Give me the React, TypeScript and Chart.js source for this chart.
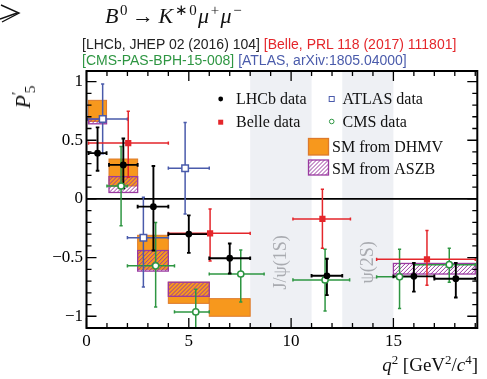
import React, { useEffect, useRef } from "react";
import { Chart, registerables } from "chart.js";
Chart.register(...registerables);

// ---------- axis ticks ----------
const xTickValues = [0, 5, 10, 15];
const yTickValues = [-1, -0.5, 0, 0.5, 1];

// ---------- LHCb ----------
const lhcbX = [0.54, 1.8, 3.27, 5.0, 7.0, 11.75, 16.0, 18.05];
const lhcbXLo = [0.1, 1.1, 2.5, 4, 6, 11, 15, 17];
const lhcbXHi = [0.98, 2.5, 4, 6, 8, 12.5, 17, 19];
const lhcbY = [0.39, 0.29, -0.066, -0.3, -0.505, -0.655, -0.66, -0.68];
const lhcbYLo = [0.24, 0.09, -0.44, -0.46, -0.635, -0.82, -0.79, -0.84];
const lhcbYHi = [0.61, 0.515, 0.28, -0.14, -0.38, -0.51, -0.545, -0.545];

// ---------- Belle ----------
const belleX = [2.04, 6.04, 11.53, 16.64];
const belleXLo = [0.1, 4, 10.09, 14.18];
const belleXHi = [4, 8, 12.9, 19];
const belleY = [0.476, -0.293, -0.171, -0.515];
const belleYLo = [0.185, -0.53, -0.42, -0.735];
const belleYHi = [0.746, -0.085, 0.083, -0.27];

// ---------- ATLAS ----------
const atlasX = [0.79, 2.78, 4.82];
const atlasXLo = [0.04, 2, 4];
const atlasXHi = [2, 4, 6];
const atlasY = [0.68, -0.33, 0.262];
const atlasYLo = [0.385, -0.75, -0.128];
const atlasYHi = [0.98, 0.015, 0.652];

// ---------- CMS ----------
const cmsX = [1.69, 3.38, 5.34, 7.54, 11.66, 15.3, 17.73];
const cmsXLo = [1, 2, 4.3, 6, 10.09, 14.18, 16];
const cmsXHi = [2, 4.3, 6, 8.68, 12.86, 16, 19];
const cmsY = [0.11, -0.57, -0.963, -0.64, -0.69, -0.664, -0.56];
const cmsYLo = [-0.228, -0.92, -1.13, -0.878, -0.955, -0.934, -0.71];
const cmsYHi = [0.447, -0.2, -0.77, -0.436, -0.43, -0.43, -0.42];

// ---------- SM predictions ----------
const dhmvXLo = [0.1, 1.1, 2.5, 4, 6];
const dhmvXHi = [0.98, 2.5, 4, 6, 8];
const dhmvYLo = [0.66, 0.11, -0.6, -0.89, -1.0];
const dhmvYHi = [0.84, 0.34, -0.31, -0.71, -0.85];

const aszbXLo = [0.1, 1.1, 2.5, 4, 15];
const aszbXHi = [0.98, 2.5, 4, 6, 19];
const aszbYLo = [0.64, 0.055, -0.615, -0.83, -0.64];
const aszbYHi = [0.68, 0.19, -0.44, -0.71, -0.55];

// ---------- charmonium vetoes ----------
const bandLo = [8, 12.5];
const bandHi = [11, 15];
const bandLabels = ["J/ψ(1S)", "ψ(2S)"];

const BLACK = "#000000";
const RED = "#e4262b";
const BLUE = "#4a5bab";
const GREEN = "#2e9642";
const ORANGE = "#f7981d";
const ORANGE_EDGE = "#dd7a2c";
const PURPLE = "#9a3aa0";
const BAND = "#eef0f4";
const SERIF = "'Liberation Serif', 'Times New Roman', serif";
const SANS = "'Liberation Sans', Arial, sans-serif";

function drawErrors(ctx: any, xs: any, ys: any, X: number[], XLo: number[], XHi: number[], Y: number[], YLo: number[], YHi: number[], color: string, lw: number, cap: number) {
  ctx.strokeStyle = color;
  ctx.lineWidth = lw;
  for (let i = 0; i < X.length; i++) {
    const px = xs.getPixelForValue(X[i]);
    const py = ys.getPixelForValue(Y[i]);
    const x1 = xs.getPixelForValue(XLo[i]);
    const x2 = xs.getPixelForValue(XHi[i]);
    const y1 = ys.getPixelForValue(YLo[i]);
    const y2 = ys.getPixelForValue(YHi[i]);
    ctx.beginPath();
    ctx.moveTo(x1, py); ctx.lineTo(x2, py);
    ctx.moveTo(px, y1); ctx.lineTo(px, y2);
    ctx.moveTo(x1, py - cap); ctx.lineTo(x1, py + cap);
    ctx.moveTo(x2, py - cap); ctx.lineTo(x2, py + cap);
    ctx.moveTo(px - cap, y1); ctx.lineTo(px + cap, y1);
    ctx.moveTo(px - cap, y2); ctx.lineTo(px + cap, y2);
    ctx.stroke();
  }
}

function hatchRect(ctx: any, l: number, t: number, r: number, b: number, lw: number) {
  ctx.save();
  ctx.beginPath();
  ctx.rect(l, t, r - l, b - t);
  ctx.clip();
  ctx.strokeStyle = PURPLE;
  ctx.lineWidth = 1;
  const h = b - t;
  ctx.beginPath();
  for (let s = l - h; s < r + 2; s += 4) {
    ctx.moveTo(s, b);
    ctx.lineTo(s + h, t);
  }
  ctx.stroke();
  ctx.restore();
  ctx.strokeStyle = PURPLE;
  ctx.lineWidth = lw;
  ctx.strokeRect(l, t, r - l, b - t);
}

const physicsPlugin = {
  id: "physics",
  beforeDatasetsDraw(chart: any) {
    const { ctx, chartArea: a, scales } = chart;
    const xs = scales.x, ys = scales.y;
    ctx.save();
    ctx.beginPath();
    ctx.rect(a.left, a.top, a.right - a.left, a.bottom - a.top);
    ctx.clip();
    for (let i = 0; i < bandLo.length; i++) {
      const l = xs.getPixelForValue(bandLo[i]);
      const r = xs.getPixelForValue(bandHi[i]);
      ctx.fillStyle = BAND;
      ctx.fillRect(l, a.top, r - l, a.bottom - a.top);
    }
    for (let i = 0; i < bandLo.length; i++) {
      const cx = xs.getPixelForValue((bandLo[i] + bandHi[i]) / 2);
      const cy = ys.getPixelForValue(-0.54);
      ctx.save();
      ctx.translate(cx, cy);
      ctx.rotate(-Math.PI / 2);
      ctx.fillStyle = "#a9abb0";
      ctx.font = `18px ${SERIF}`;
      ctx.textAlign = "center";
      ctx.textBaseline = "middle";
      ctx.fillText(bandLabels[i], 0, 0);
      ctx.restore();
    }
    for (let i = 0; i < dhmvXLo.length; i++) {
      const l = xs.getPixelForValue(dhmvXLo[i]);
      const r = xs.getPixelForValue(dhmvXHi[i]);
      const t = ys.getPixelForValue(dhmvYHi[i]);
      const b = ys.getPixelForValue(dhmvYLo[i]);
      ctx.fillStyle = ORANGE;
      ctx.fillRect(l, t, r - l, b - t);
      ctx.strokeStyle = ORANGE_EDGE;
      ctx.lineWidth = 1;
      ctx.strokeRect(l, t, r - l, b - t);
    }
    for (let i = 0; i < aszbXLo.length; i++) {
      const l = xs.getPixelForValue(aszbXLo[i]);
      const r = xs.getPixelForValue(aszbXHi[i]);
      const t = ys.getPixelForValue(aszbYHi[i]);
      const b = ys.getPixelForValue(aszbYLo[i]);
      hatchRect(ctx, l, t, r, b, 1.3);
    }
    const y0 = ys.getPixelForValue(0);
    ctx.strokeStyle = BLACK;
    ctx.lineWidth = 1.6;
    ctx.beginPath();
    ctx.moveTo(a.left, y0);
    ctx.lineTo(a.right, y0);
    ctx.stroke();
    drawErrors(ctx, xs, ys, cmsX, cmsXLo, cmsXHi, cmsY, cmsYLo, cmsYHi, GREEN, 1.5, 1.6);
    drawErrors(ctx, xs, ys, atlasX, atlasXLo, atlasXHi, atlasY, atlasYLo, atlasYHi, BLUE, 1.5, 1.6);
    drawErrors(ctx, xs, ys, belleX, belleXLo, belleXHi, belleY, belleYLo, belleYHi, RED, 1.5, 1.6);
    drawErrors(ctx, xs, ys, lhcbX, lhcbXLo, lhcbXHi, lhcbY, lhcbYLo, lhcbYHi, BLACK, 1.9, 1.8);
    ctx.restore();
  },
  afterDatasetsDraw(chart: any) {
    const { ctx, chartArea: a, scales } = chart;
    const xs = scales.x, ys = scales.y;
    ctx.save();
    ctx.strokeStyle = BLACK;
    ctx.lineWidth = 2;
    ctx.strokeRect(a.left, a.top, a.right - a.left, a.bottom - a.top);
    ctx.lineWidth = 1.3;
    ctx.beginPath();
    for (let v = 0; v <= 19; v += 1) {
      const px = xs.getPixelForValue(v);
      const len = v % 5 === 0 ? 10 : 5;
      ctx.moveTo(px, a.bottom); ctx.lineTo(px, a.bottom - len);
      ctx.moveTo(px, a.top); ctx.lineTo(px, a.top + len);
    }
    for (let k = -11; k <= 10; k++) {
      const v = k / 10;
      const py = ys.getPixelForValue(v);
      const len = k % 5 === 0 ? 10 : 5;
      ctx.moveTo(a.left, py); ctx.lineTo(a.left + len, py);
      ctx.moveTo(a.right, py); ctx.lineTo(a.right - len, py);
    }
    ctx.stroke();

    // legend
    ctx.font = `16px ${SERIF}`;
    ctx.fillStyle = "#111";
    ctx.textAlign = "left";
    ctx.textBaseline = "alphabetic";
    ctx.fillText("LHCb data", 236, 103.5);
    ctx.fillText("Belle data", 236, 126.5);
    ctx.fillText("ATLAS data", 342.5, 103.5);
    ctx.fillText("CMS data", 342.5, 126.5);
    ctx.fillText("SM from DHMV", 332, 151.5);
    ctx.fillText("SM from ASZB", 332, 174);
    ctx.fillStyle = BLACK;
    ctx.beginPath(); ctx.arc(220.7, 99, 2.4, 0, Math.PI * 2); ctx.fill();
    ctx.fillStyle = RED;
    ctx.fillRect(218.2, 119.7, 5, 5);
    ctx.strokeStyle = BLUE; ctx.lineWidth = 1;
    ctx.strokeRect(329.2, 96.5, 5, 5);
    ctx.strokeStyle = GREEN;
    ctx.beginPath(); ctx.arc(331.7, 121.5, 2.3, 0, Math.PI * 2); ctx.stroke();
    ctx.fillStyle = ORANGE;
    ctx.fillRect(308.5, 138.5, 20, 16.5);
    ctx.strokeStyle = ORANGE_EDGE; ctx.lineWidth = 1.3;
    ctx.strokeRect(308.5, 138.5, 20, 16.5);
    hatchRect(ctx, 308.5, 160, 328.5, 175, 1.3);
    ctx.restore();
  },
};

function Sup({ children }: { children: any }) {
  return <span style={{ fontSize: "0.68em", position: "relative", top: "-0.55em" }}>{children}</span>;
}

export default function App() {
  const ref = useRef<HTMLCanvasElement | null>(null);
  useEffect(() => {
    if (!ref.current) return;
    const mk = (X: number[], Y: number[]) => X.map((x, i) => ({ x, y: Y[i] }));
    const chart = new Chart(ref.current, {
      type: "scatter",
      data: {
        datasets: [
          { label: "LHCb data", data: mk(lhcbX, lhcbY), pointStyle: "circle", pointRadius: 3.4, backgroundColor: BLACK, borderColor: BLACK, borderWidth: 0 },
          { label: "Belle data", data: mk(belleX, belleY), pointStyle: "rect", pointRadius: 4.4, backgroundColor: RED, borderColor: RED, borderWidth: 0 },
          { label: "ATLAS data", data: mk(atlasX, atlasY), pointStyle: "rect", pointRadius: 4.6, backgroundColor: "#ffffff", borderColor: BLUE, borderWidth: 1.5 },
          { label: "CMS data", data: mk(cmsX, cmsY), pointStyle: "circle", pointRadius: 3.1, backgroundColor: "#ffffff", borderColor: GREEN, borderWidth: 1.5 },
        ] as any,
      },
      options: {
        animation: false,
        responsive: false,
        events: [],
        layout: { padding: { left: 0, right: 9.7, top: 71, bottom: 0 } },
        plugins: { legend: { display: false }, tooltip: { enabled: false }, title: { display: false } },
        scales: {
          x: {
            type: "linear",
            min: 0,
            max: 19.1,
            grid: { display: false, drawTicks: false },
            border: { display: false },
            afterBuildTicks: (s: any) => { s.ticks = xTickValues.map((v) => ({ value: v })); },
            afterFit: (s: any) => { s.height = 51; },
            ticks: { color: "#000", font: { family: SERIF, size: 17 }, padding: 3, maxRotation: 0, autoSkip: false, callback: (v: any) => String(v) },
          },
          y: {
            type: "linear",
            min: -1.1,
            max: 1.09,
            grid: { display: false, drawTicks: false },
            border: { display: false },
            afterBuildTicks: (s: any) => { s.ticks = yTickValues.map((v) => ({ value: v })); },
            afterFit: (s: any) => { s.width = 86.5; },
            ticks: { color: "#000", font: { family: SERIF, size: 17 }, padding: 3.5, autoSkip: false, callback: (v: any) => String(v).replace("-", "\u2212") },
          },
        },
      } as any,
      plugins: [physicsPlugin],
    });
    return () => chart.destroy();
  }, []);

  return (
    <div style={{ position: "absolute", left: 0, top: 0, width: 487, height: 379, background: "#fff", overflow: "hidden" }}>
      <canvas ref={ref} width={487} height={379} style={{ display: "block" }} />
      <svg width={24} height={28} style={{ position: "absolute", left: 0, top: 2 }}>
        <polyline points="1,3 19,11 2,20" fill="none" stroke="#111" strokeWidth={1.4} />
        <line x1={0} y1={17} x2={17} y2={11} stroke="#111" strokeWidth={1.4} />
      </svg>
      <div style={{ position: "absolute", left: 105, top: 2, fontFamily: SERIF, fontSize: 22, lineHeight: "28px", whiteSpace: "nowrap", color: "#111", letterSpacing: "1.5px" }}>
        <i>B</i><Sup>0</Sup><span style={{ margin: "0 3px" }}>→</span><i>K</i><Sup>∗0</Sup><i>μ</i><Sup>+</Sup><i>μ</i><Sup>−</Sup>
      </div>
      <div style={{ position: "absolute", left: 82, top: 36, fontFamily: SANS, fontSize: 14, lineHeight: "17px", whiteSpace: "nowrap" }}>
        <span style={{ color: "#222" }}>[LHCb, JHEP 02 (2016) 104]</span>{" "}
        <span style={{ color: RED }}>[Belle, PRL 118 (2017) 111801]</span>
      </div>
      <div style={{ position: "absolute", left: 82, top: 52, fontFamily: SANS, fontSize: 14, lineHeight: "17px", whiteSpace: "nowrap" }}>
        <span style={{ color: GREEN }}>[CMS-PAS-BPH-15-008]</span>{" "}
        <span style={{ color: BLUE }}>[ATLAS, arXiv:1805.04000]</span>
      </div>
      <div style={{ position: "absolute", left: 24, top: 97, transform: "translate(-50%, -50%) rotate(-90deg)", fontFamily: SERIF, fontSize: 22, lineHeight: "26px", whiteSpace: "nowrap", color: "#111" }}>
        <i>P</i><span style={{ fontSize: "0.7em", position: "relative", top: "-0.5em" }}>′</span><span style={{ fontSize: "0.7em", position: "relative", top: "0.35em", marginLeft: "-0.1em" }}>5</span>
      </div>
      <div style={{ position: "absolute", right: 9, top: 353, fontFamily: SERIF, fontSize: 19, lineHeight: "24px", whiteSpace: "nowrap", color: "#111" }}>
        <i>q</i><Sup>2</Sup> [GeV<Sup>2</Sup>/<i>c</i><Sup>4</Sup>]
      </div>
    </div>
  );
}
